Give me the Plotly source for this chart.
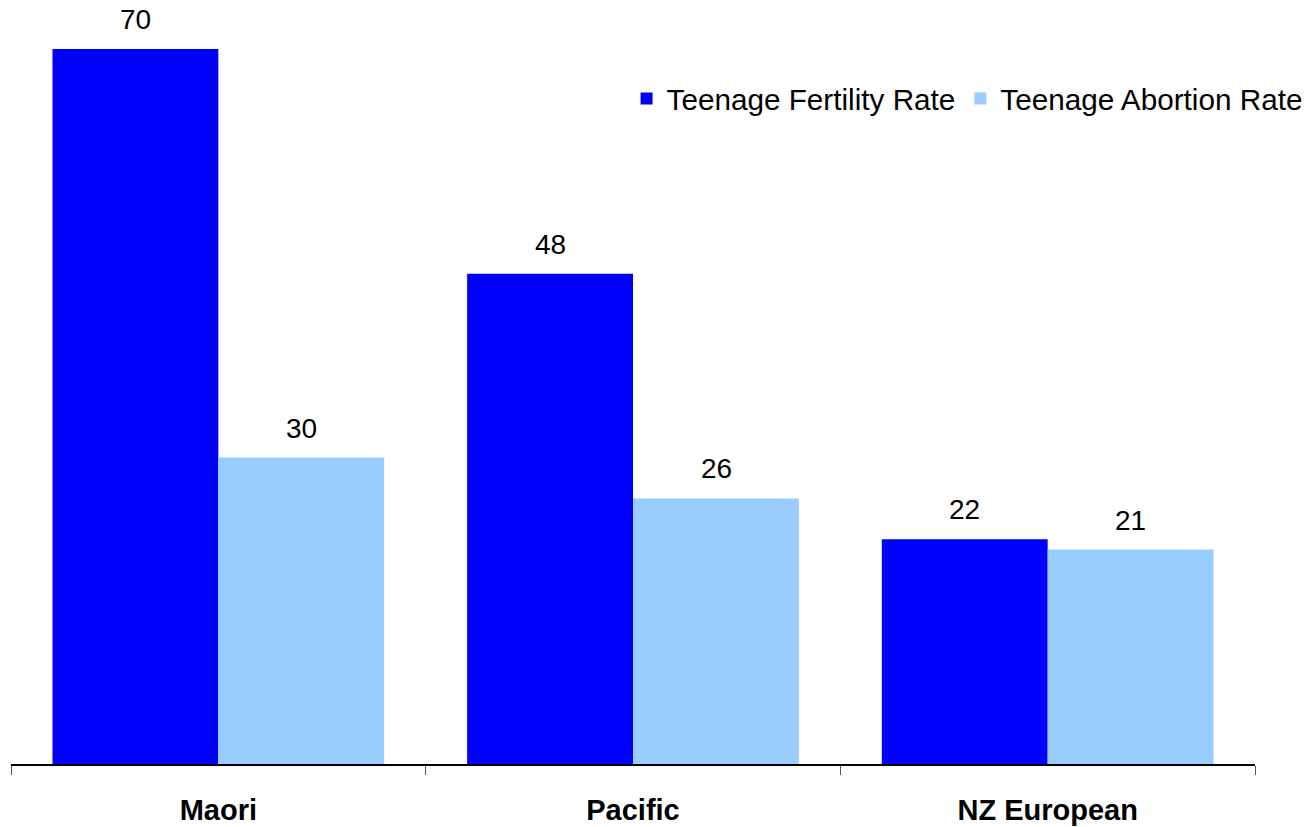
import plotly.graph_objects as go

categories = ["Maori", "Pacific", "NZ European"]
fertility = [70, 48, 22]
abortion = [30, 26, 21]
series_names = ["Teenage Fertility Rate", "Teenage Abortion Rate"]
colors = ["#0000FF", "#99CCFF"]

fig = go.Figure()
for name, vals, col in zip(series_names, [fertility, abortion], colors):
    fig.add_trace(go.Bar(x=categories, y=vals, name=name, marker_color=col,
                         marker_line_width=0))

# value labels
for vals, shift in [(fertility, -83), (abortion, 83)]:
    for c, v in zip(categories, vals):
        fig.add_annotation(x=c, y=v, text=str(v), showarrow=False,
                           xshift=shift, yshift=12, yanchor="bottom",
                           font=dict(family="Arial, Liberation Sans", size=28, color="black"))

fig.update_layout(
    width=1310, height=827,
    margin=dict(l=11, r=55, t=0, b=63, autoexpand=False),
    paper_bgcolor="white", plot_bgcolor="white",
    barmode="group", bargap=0.2, bargroupgap=0,
    font=dict(family="Arial, Liberation Sans", size=28, color="black"),
    showlegend=True,
    legend=dict(orientation="h", x=0.4783, xanchor="left", xref="container",
                y=0.8807, yanchor="middle", yref="container",
                font=dict(size=29.7), bgcolor="rgba(0,0,0,0)", itemwidth=30,
                tracegroupgap=0),
    xaxis=dict(showline=True, linecolor="black", linewidth=1.5,
               ticks="outside", tickson="boundaries", ticklen=9, tickcolor="#555",
               tickfont=dict(size=29, family="Arial, Liberation Sans", weight="bold"),
               ticklabelstandoff=19, showgrid=False),
    yaxis=dict(range=[0, 74.8], visible=False, showgrid=False),
)

fig.write_html("out.html", config={"displayModeBar": False},
               post_script="document.body.style.margin='0';")
